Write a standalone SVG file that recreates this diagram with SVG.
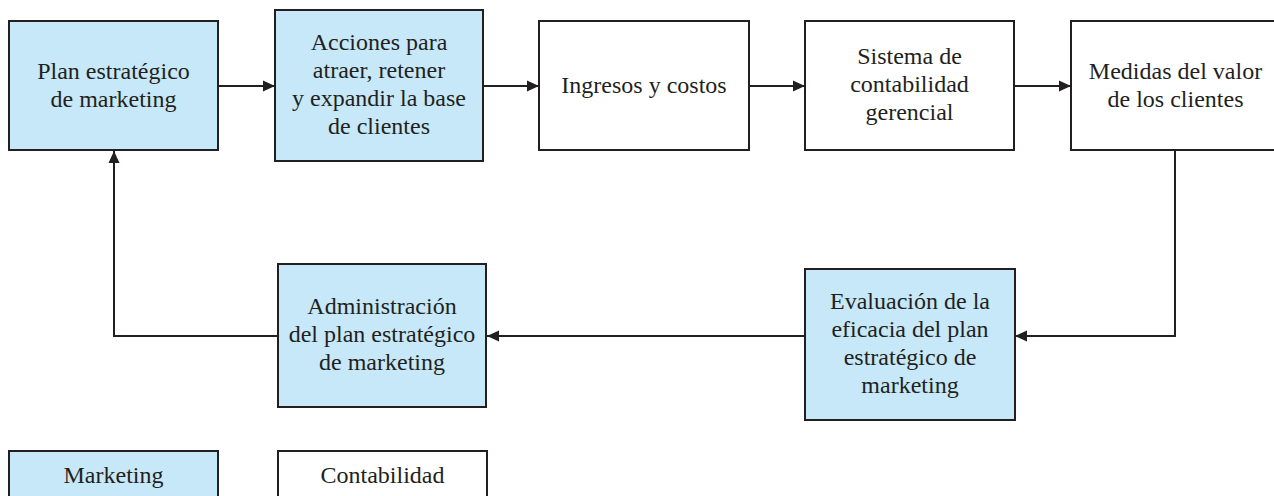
<svg xmlns="http://www.w3.org/2000/svg" width="1274" height="496" viewBox="0 0 1274 496">
<defs>
<style>
.box{stroke:#231f20;stroke-width:2;}
.mk{fill:#c7e8f8;}
.ac{fill:#ffffff;}
.t{font-family:"Liberation Serif","Times New Roman",serif;font-size:24px;fill:#231f20;text-anchor:middle;}
.c{fill:none;stroke:#231f20;stroke-width:2;}
</style>
<marker id="arr" markerUnits="userSpaceOnUse" markerWidth="14" markerHeight="12" refX="12" refY="6" orient="auto">
<path d="M0,0.5 L12,6 L0,11.5 Z" fill="#231f20"/>
</marker>
</defs>
<rect width="1274" height="496" fill="#ffffff"/>
<g id="connectors">
<path class="c" d="M218,86 H275" marker-end="url(#arr)"/>
<path class="c" d="M483,86 H539" marker-end="url(#arr)"/>
<path class="c" d="M749,86 H805" marker-end="url(#arr)"/>
<path class="c" d="M1014,86 H1071" marker-end="url(#arr)"/>
<path class="c" d="M1175,150 V336 H1015" marker-end="url(#arr)"/>
<path class="c" d="M805,336 H487" marker-end="url(#arr)"/>
<path class="c" d="M278,336 H114 V151" marker-end="url(#arr)"/>
</g>
<g id="plan">
<rect class="box mk" x="9" y="21" width="209" height="129"/>
<text class="t" x="113.5" y="78.5">Plan estratégico</text>
<text class="t" x="113.5" y="106.5">de marketing</text>
</g>
<g id="acciones">
<rect class="box mk" x="275" y="10" width="208" height="151"/>
<text class="t" x="379" y="50">Acciones para</text>
<text class="t" x="379" y="78">atraer, retener</text>
<text class="t" x="379" y="106">y expandir la base</text>
<text class="t" x="379" y="134">de clientes</text>
</g>
<g id="ingresos">
<rect class="box ac" x="539" y="21" width="210" height="129"/>
<text class="t" x="644" y="92.5">Ingresos y costos</text>
</g>
<g id="sistema">
<rect class="box ac" x="805" y="21" width="209" height="129"/>
<text class="t" x="909.5" y="64">Sistema de</text>
<text class="t" x="909.5" y="92">contabilidad</text>
<text class="t" x="909.5" y="120">gerencial</text>
</g>
<g id="medidas">
<rect class="box ac" x="1071" y="21" width="210" height="129"/>
<text class="t" x="1175.5" y="78.5">Medidas del valor</text>
<text class="t" x="1175.5" y="106.5">de los clientes</text>
</g>
<g id="evaluacion">
<rect class="box mk" x="805" y="269" width="210" height="151"/>
<text class="t" x="910" y="309">Evaluación de la</text>
<text class="t" x="910" y="337">eficacia del plan</text>
<text class="t" x="910" y="365">estratégico de</text>
<text class="t" x="910" y="393">marketing</text>
</g>
<g id="administracion">
<rect class="box mk" x="278" y="264" width="208" height="143"/>
<text class="t" x="382" y="314">Administración</text>
<text class="t" x="382" y="342">del plan estratégico</text>
<text class="t" x="382" y="370">de marketing</text>
</g>
<g id="legend-marketing">
<rect class="box mk" x="9" y="451" width="209" height="60"/>
<text class="t" x="113.5" y="483">Marketing</text>
</g>
<g id="legend-contabilidad">
<rect class="box ac" x="278" y="451" width="209" height="60"/>
<text class="t" x="382.5" y="483">Contabilidad</text>
</g>
</svg>
